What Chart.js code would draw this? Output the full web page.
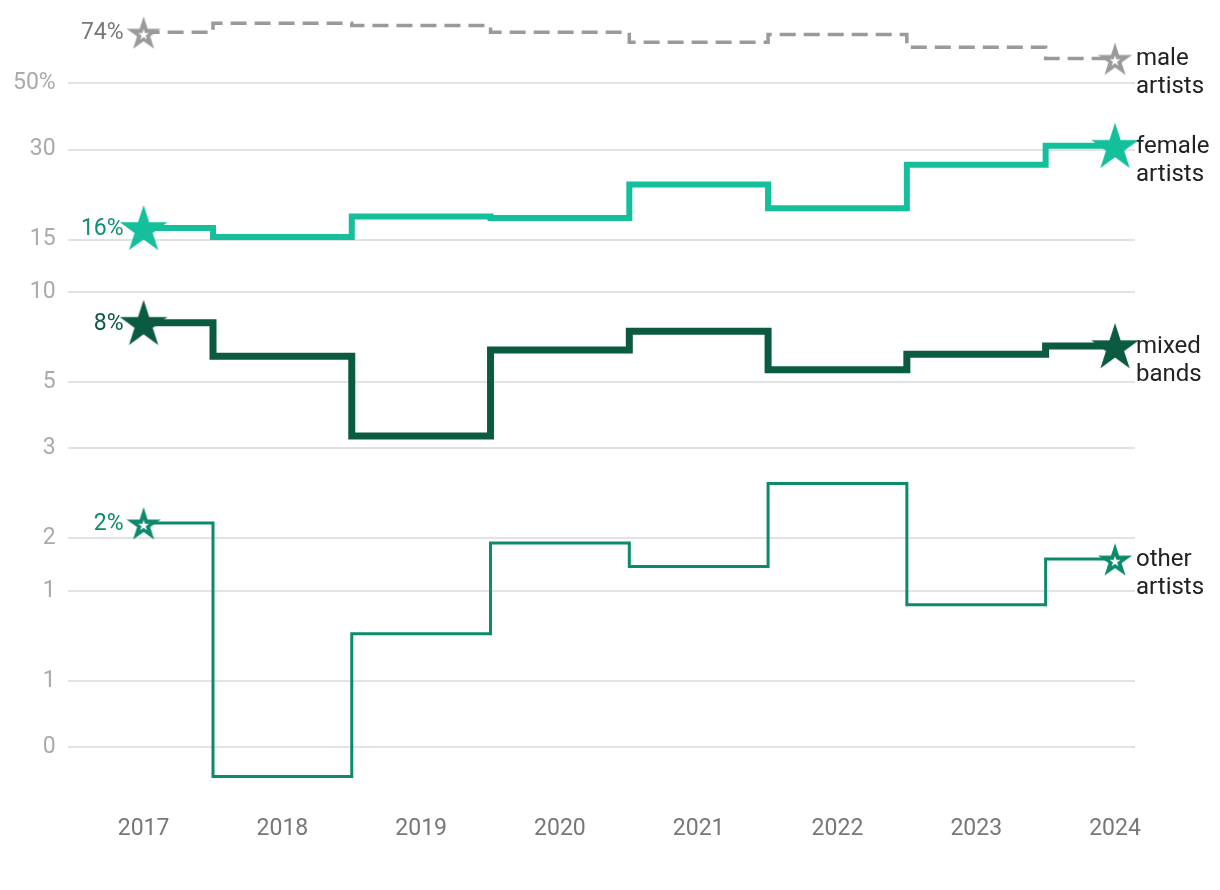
<!DOCTYPE html>
<html>
<head>
<meta charset="utf-8">
<script src="https://cdn.jsdelivr.net/npm/chart.js@4/dist/chart.umd.min.js"></script>
<style>
  html, body { margin: 0; padding: 0; background: #fff; }
  #wrap { width: 1220px; height: 890px; position: relative; }
</style>
</head>
<body>
<div id="wrap"><canvas id="artistsChart"></canvas></div>
<script>
const years = [2017, 2018, 2019, 2020, 2021, 2022, 2023, 2024];
const maleArtists = [74, 79.3, 78, 74, 68.5, 72.8, 65.9, 60.5];
const femaleArtists = [16.4, 15.3, 17.9, 17.7, 22.9, 19.1, 26.7, 30.9];
const mixedBands = [7.9, 6.1, 3.3, 6.4, 7.4, 5.5, 6.2, 6.6];
const otherArtists = [1.69, 0.24, 0.72, 1.45, 1.21, 2.29, 0.9, 1.28];
const yTickValues = [0.3, 0.5, 1, 1.5, 3, 5, 10, 15, 30, 50];
const yTickLabels = ['0', '1', '1', '2', '3', '5', '10', '15', '30', '50%'];
const seriesNames = [['male', 'artists'], ['female', 'artists'], ['mixed', 'bands'], ['other', 'artists']];
const startLabels = ['74%', '16%', '8%', '2%'];

// filled star, optionally with a small white star inside
function makeStar(r, color, hollow) {
    const c = document.createElement('canvas');
    const s = Math.ceil(r * 2 + 2);
    c.width = s; c.height = s;
    const g = c.getContext('2d');
    function star(cx, cy, R, fill) {
        g.beginPath();
        for (let i = 0; i < 10; i++) {
            const rr = i % 2 === 0 ? R : R * 0.382;
            const a = -Math.PI / 2 + i * Math.PI / 5;
            const px = cx + rr * Math.cos(a), py = cy + rr * Math.sin(a);
            if (i === 0) g.moveTo(px, py); else g.lineTo(px, py);
        }
        g.closePath();
        g.fillStyle = fill;
        g.fill();
    }
    star(s / 2, s / 2 + 2, r, color);
    if (hollow) star(s / 2, s / 2 + 2.5, r * 0.32, '#fff');
    return c;
}

const maleColor = '#9a9a9a', femaleColor = '#14bf9c', mixedColor = '#0b5a42', otherColor = '#0b8a6c';
const labelColors = ['#777777', '#0e8f72', '#0b5a42', '#0b8a6c'];

function pts(vals) { return vals.map((v, i) => ({ x: years[i], y: v })); }
function edgeStars(star) {
    return years.map((y, i) => (i === 0 || i === years.length - 1) ? star : false);
}

const endLabels = {
    id: 'endLabels',
    afterDatasetsDraw(chart) {
        const ctx = chart.ctx;
        ctx.save();
        chart.data.datasets.forEach((ds, i) => {
            const meta = chart.getDatasetMeta(i);
            const first = meta.data[0], last = meta.data[meta.data.length - 1];
            ctx.font = '23px Roboto';
            ctx.fillStyle = labelColors[i];
            ctx.textAlign = 'right';
            ctx.textBaseline = 'middle';
            ctx.fillText(startLabels[i], first.x - 20, first.y + 1);
            ctx.font = '24px Roboto';
            ctx.fillStyle = '#222';
            ctx.textAlign = 'left';
            seriesNames[i].forEach((t, k) => ctx.fillText(t, last.x + 21, last.y + 1 + k * 28));
        });
        ctx.restore();
    }
};

const ctx = document.getElementById('artistsChart').getContext('2d');
new Chart(ctx, {
    type: 'line',
    data: {
        datasets: [
            { label: 'male artists', data: pts(maleArtists), borderColor: maleColor, borderWidth: 3.5,
              borderDash: [16, 8], stepped: 'middle', pointStyle: edgeStars(makeStar(18, maleColor, true)) },
            { label: 'female artists', data: pts(femaleArtists), borderColor: femaleColor, borderWidth: 6,
              stepped: 'middle', pointStyle: edgeStars(makeStar(25, femaleColor, false)) },
            { label: 'mixed bands', data: pts(mixedBands), borderColor: mixedColor, borderWidth: 7,
              stepped: 'middle', pointStyle: edgeStars(makeStar(25, mixedColor, false)) },
            { label: 'other artists', data: pts(otherArtists), borderColor: otherColor, borderWidth: 3,
              stepped: 'middle', pointStyle: edgeStars(makeStar(18, otherColor, true)) }
        ]
    },
    options: {
        responsive: true,
        maintainAspectRatio: false,
        animation: false,
        events: [],
        datasets: { line: { pointRadius: 1, pointBorderWidth: 0, clip: false } },
        layout: { padding: { top: 6, right: 85, left: 1, bottom: 33 } },
        plugins: { legend: { display: false }, tooltip: { enabled: false } },
        scales: {
            x: {
                type: 'linear',
                min: 2016.453,
                max: 2024.144,
                grid: { display: false },
                border: { display: false },
                afterBuildTicks: s => { s.ticks = years.map(v => ({ value: v })); },
                ticks: { color: '#777', font: { family: 'Roboto', size: 23 }, padding: 14,
                         callback: v => String(v) }
            },
            y: {
                type: 'logarithmic',
                min: 0.2106,
                max: 77.8,
                grid: { color: '#e3e3e3', lineWidth: 2, drawTicks: false },
                border: { display: false },
                afterBuildTicks: s => { s.ticks = yTickValues.map(v => ({ value: v })); },
                ticks: { color: '#aaa', font: { family: 'Roboto', size: 23 }, padding: 12,
                         callback: (v, i) => yTickLabels[i] }
            }
        }
    },
    plugins: [endLabels]
});
</script>
</body>
</html>
